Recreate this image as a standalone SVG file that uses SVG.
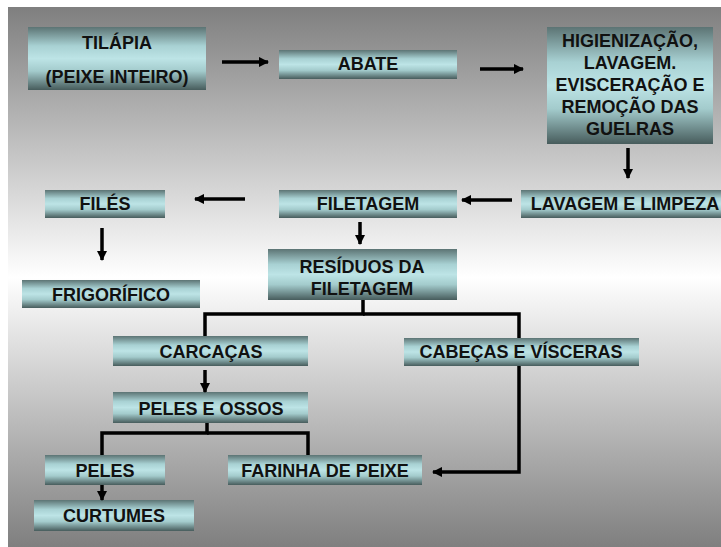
<svg xmlns="http://www.w3.org/2000/svg" width="721" height="547" viewBox="0 0 721 547">
<defs>
<linearGradient id="bg" x1="0" y1="0" x2="0" y2="1">
<stop offset="0" stop-color="#7f7f7f"/>
<stop offset="0.5" stop-color="#ffffff"/>
<stop offset="1" stop-color="#7f7f7f"/>
</linearGradient>
<linearGradient id="box" x1="0" y1="0" x2="0" y2="1">
<stop offset="0" stop-color="#5c7474"/>
<stop offset="0.3" stop-color="#a8d1d3"/>
<stop offset="0.5" stop-color="#bde4e6"/>
<stop offset="0.7" stop-color="#a3cbcc"/>
<stop offset="1" stop-color="#475c5c"/>
</linearGradient>
<marker id="ah" viewBox="0 0 10 10" refX="9" refY="5" markerWidth="3" markerHeight="3" orient="auto" markerUnits="strokeWidth">
<path d="M0,0 L10,5 L0,10 Z" fill="#000"/>
</marker>
</defs>
<style>
.b{fill:url(#box);}
.t{font-family:"Liberation Sans",Arial,sans-serif;font-weight:bold;font-size:18px;fill:#111;text-anchor:middle;}
.c{fill:none;stroke:#000;stroke-width:3.5;}
.a{fill:none;stroke:#000;stroke-width:3.5;marker-end:url(#ah);}
</style>
<rect x="8" y="7" width="713" height="540" fill="url(#bg)"/>

<g id="tilapia"><rect class="b" x="28" y="27" width="178" height="63"/><text class="t" x="117" y="49">TILÁPIA</text><text class="t" x="117" y="83">(PEIXE INTEIRO)</text></g>
<g id="abate"><rect class="b" x="279" y="50" width="178" height="29"/><text class="t" x="368" y="70">ABATE</text></g>
<g id="higienizacao"><rect class="b" x="547" y="27" width="166" height="117"/>
<text class="t" x="630" y="47">HIGIENIZAÇÃO,</text>
<text class="t" x="630" y="69">LAVAGEM.</text>
<text class="t" x="630" y="91">EVISCERAÇÃO E</text>
<text class="t" x="630" y="113">REMOÇÃO DAS</text>
<text class="t" x="630" y="135">GUELRAS</text></g>
<g id="lavagem"><rect class="b" x="521" y="190" width="200" height="28"/><text class="t" x="625" y="210">LAVAGEM E LIMPEZA</text></g>
<g id="filetagem"><rect class="b" x="279" y="190" width="178" height="28"/><text class="t" x="368" y="210">FILETAGEM</text></g>
<g id="files"><rect class="b" x="45" y="190" width="120" height="28"/><text class="t" x="105" y="210">FILÉS</text></g>
<g id="frigorifico"><rect class="b" x="22" y="280" width="178" height="28"/><text class="t" x="111" y="301">FRIGORÍFICO</text></g>
<g id="residuos"><rect class="b" x="268" y="249" width="189" height="51"/><text class="t" x="362" y="273">RESÍDUOS DA</text><text class="t" x="362" y="295">FILETAGEM</text></g>
<g id="carcacas"><rect class="b" x="113" y="336" width="195" height="30"/><text class="t" x="211" y="358">CARCAÇAS</text></g>
<g id="cabecas"><rect class="b" x="404" y="338" width="235" height="28"/><text class="t" x="521" y="358">CABEÇAS E VÍSCERAS</text></g>
<g id="peles-ossos"><rect class="b" x="113" y="392" width="195" height="31"/><text class="t" x="211" y="415">PELES E OSSOS</text></g>
<g id="peles"><rect class="b" x="45" y="455" width="120" height="30"/><text class="t" x="105" y="477">PELES</text></g>
<g id="farinha"><rect class="b" x="228" y="455" width="194" height="30"/><text class="t" x="325" y="477">FARINHA DE PEIXE</text></g>
<g id="curtumes"><rect class="b" x="34" y="500" width="160" height="31"/><text class="t" x="114" y="522">CURTUMES</text></g>

<g id="connectors">
<line class="a" x1="222" y1="62" x2="268" y2="62"/>
<line class="a" x1="480" y1="69" x2="523" y2="69"/>
<line class="a" x1="628" y1="148" x2="628" y2="178"/>
<line class="a" x1="512" y1="200" x2="462" y2="200"/>
<line class="a" x1="245" y1="199" x2="195" y2="199"/>
<line class="a" x1="102" y1="228" x2="102" y2="260"/>
<line class="a" x1="360" y1="222" x2="360" y2="244"/>
<polyline class="c" points="363,300 363,314 205,314 205,336"/>
<polyline class="c" points="363,314 519,314 519,338"/>
<line class="a" x1="205" y1="370" x2="205" y2="392"/>
<polyline class="c" points="207,423 207,433 102,433 102,455"/>
<polyline class="c" points="207,433 308,433 308,455"/>
<line class="a" x1="102" y1="485" x2="102" y2="500"/>
<polyline class="a" points="519,366 519,472 433,472"/>
</g>
</svg>
